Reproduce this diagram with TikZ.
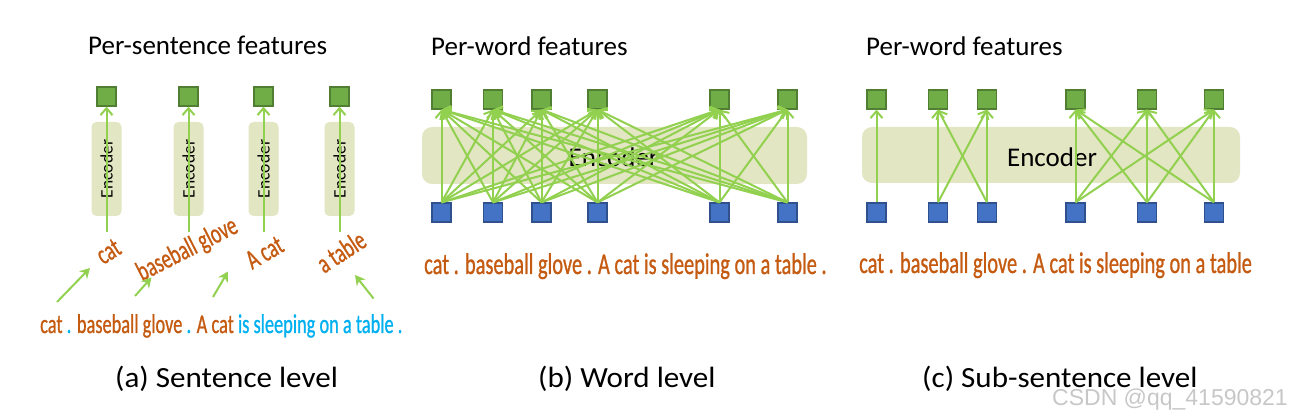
\documentclass[tikz,border=0pt]{standalone}
\usepackage{fontspec}
\setmainfont{Carlito}
\newfontfamily\condfont[FakeStretch=0.68,FakeBold=0.8]{Carlito}
\newfontfamily\capfont[FakeStretch=1.06]{Carlito}
\newfontfamily\wmfont{Liberation Sans}
\usetikzlibrary{arrows.meta}
\definecolor{garrow}{HTML}{92D050}
\definecolor{gfill}{HTML}{70AD47}
\definecolor{gdraw}{HTML}{507E32}
\definecolor{bfill}{HTML}{4472C4}
\definecolor{bdraw}{HTML}{2F528F}
\definecolor{encfill}{HTML}{E2E6C2}
\definecolor{otext}{HTML}{C55A11}
\definecolor{ctext}{HTML}{00B0F0}
\begin{document}
\begin{tikzpicture}[x=1pt,y=-1pt,
  gsq/.style={draw=gdraw,fill=gfill,line width=1.2pt,minimum size=19pt,inner sep=0pt},
  bsq/.style={draw=bdraw,fill=bfill,line width=1.2pt,minimum size=19pt,inner sep=0pt},
  encbox/.style={fill=encfill,rounded corners=5pt,inner sep=0pt},
  arr/.style={draw=garrow,line width=2pt,-{Straight Barb[length=7pt,width=12pt]}},
  smallarr/.style={draw=garrow,line width=2pt,-{Stealth[length=10pt,width=11pt]}},
  titletext/.style={anchor=base west,inner sep=0pt,font=\fontsize{27}{30}\selectfont},
  captext/.style={anchor=base west,inner sep=0pt,font=\capfont\fontsize{29.3}{32}\selectfont},
  sentA/.style={anchor=base west,inner sep=0pt,font=\condfont\fontsize{27}{30}\selectfont},
  sentB/.style={anchor=base west,inner sep=0pt,text=otext,font=\condfont\fontsize{30}{33}\selectfont},
  rotword/.style={inner sep=0pt,text=otext,font=\condfont\fontsize{28}{30}\selectfont},
  enclabel/.style={inner sep=0pt,font=\fontsize{27}{30}\selectfont},
  encsmall/.style={inner sep=0pt,rotate=90,font=\fontsize{17.5}{20}\selectfont}
]
\useasboundingbox (0,0) rectangle (1292,419);

% ---------------- (a) Sentence level ----------------
\node[titletext] (ta) at (88,55) {Per-sentence features};
\foreach \i/\x in {1/106.5,2/188.5,3/263.5,4/339.5}{
  \node[encbox,minimum width=30pt,minimum height=94pt] (ea\i) at (\x,169) {};
  \node[encsmall] (eal\i) at (\x,169) {Encoder};
  \node[gsq] (ga\i) at (\x,96.5) {};
  \coordinate (ain\i) at (\x,232);
  \draw[arr] (ain\i) -- (ga\i.south);
}
\node[rotword,rotate=32] (wa1) at (108.5,251.5) {cat};
\node[rotword,rotate=27] (wa2) at (187.5,250) {baseball glove};
\node[rotword,rotate=30] (wa3) at (264.5,252.5) {A cat};
\node[rotword,rotate=33] (wa4) at (341,251.5) {a table};
\coordinate (s1t) at (57,302);   \coordinate (s1h) at (90,268);
\coordinate (s2t) at (135,296);  \coordinate (s2h) at (151.5,277.5);
\coordinate (s3t) at (213,297);  \coordinate (s3h) at (228,271.5);
\coordinate (s4t) at (373.5,298.5); \coordinate (s4h) at (355,275);
\foreach \k in {1,2,3,4}{\draw[smallarr] (s\k t) -- (s\k h);}
\node[sentA] (sa) at (40,333) {\textcolor{otext}{cat} \textcolor{ctext}{.} \textcolor{otext}{baseball glove} \textcolor{ctext}{.} \textcolor{otext}{A cat} \textcolor{ctext}{is sleeping on a table .}};
\node[captext] (ca) at (115,387) {(a) Sentence level};

% ---------------- (b) Word level ----------------
\node[titletext] (tb) at (431,56) {Per-word features};
\node[encbox,rounded corners=10pt,minimum width=385pt,minimum height=57pt] (eb) at (614.5,155.5) {};
\node[enclabel] (ebl) at (613.5,157) {Encoder};
\foreach \i/\x in {1/441.5,2/493,3/541.5,4/597.5,5/719.5,6/787.5}{
  \node[gsq] (gb\i) at (\x,99.5) {};
  \node[bsq] (bb\i) at (\x,212.5) {};
}
\foreach \i in {1,...,6}{\foreach \j in {1,...,6}{\draw[arr] (bb\i.north) -- (gb\j.south);}}
\node[sentB] (sb) at (424,274) {cat . baseball glove . A cat is sleeping on a table .};
\node[captext] (cb) at (538,387) {(b) Word level};

% ---------------- (c) Sub-sentence level ----------------
\node[titletext] (tc) at (866,56) {Per-word features};
\node[encbox,rounded corners=10pt,minimum width=378pt,minimum height=56pt] (ec) at (1051,155) {};
\node[enclabel] (ecl) at (1052,157) {Encoder};
\foreach \i/\x in {1/876.5,2/938,3/987,4/1075.5,5/1147,6/1214}{
  \node[gsq] (gc\i) at (\x,99.5) {};
  \node[bsq] (bc\i) at (\x,212.5) {};
}
\foreach \i/\j in {1/1,2/2,2/3,3/2,3/3,4/4,4/5,4/6,5/4,5/5,5/6,6/4,6/5,6/6}{\draw[arr] (bc\i.north) -- (gc\j.south);}
\node[sentB] (sc) at (859,273) {cat . baseball glove . A cat is sleeping on a table};
\node[captext] (cc) at (922,387) {(c) Sub-sentence level};

% watermark
\node[anchor=base east,inner sep=0pt,text=black!22,font=\wmfont\fontsize{23}{25}\selectfont] (wm) at (1288,405) {CSDN @qq\_41590821};
\end{tikzpicture}
\end{document}
